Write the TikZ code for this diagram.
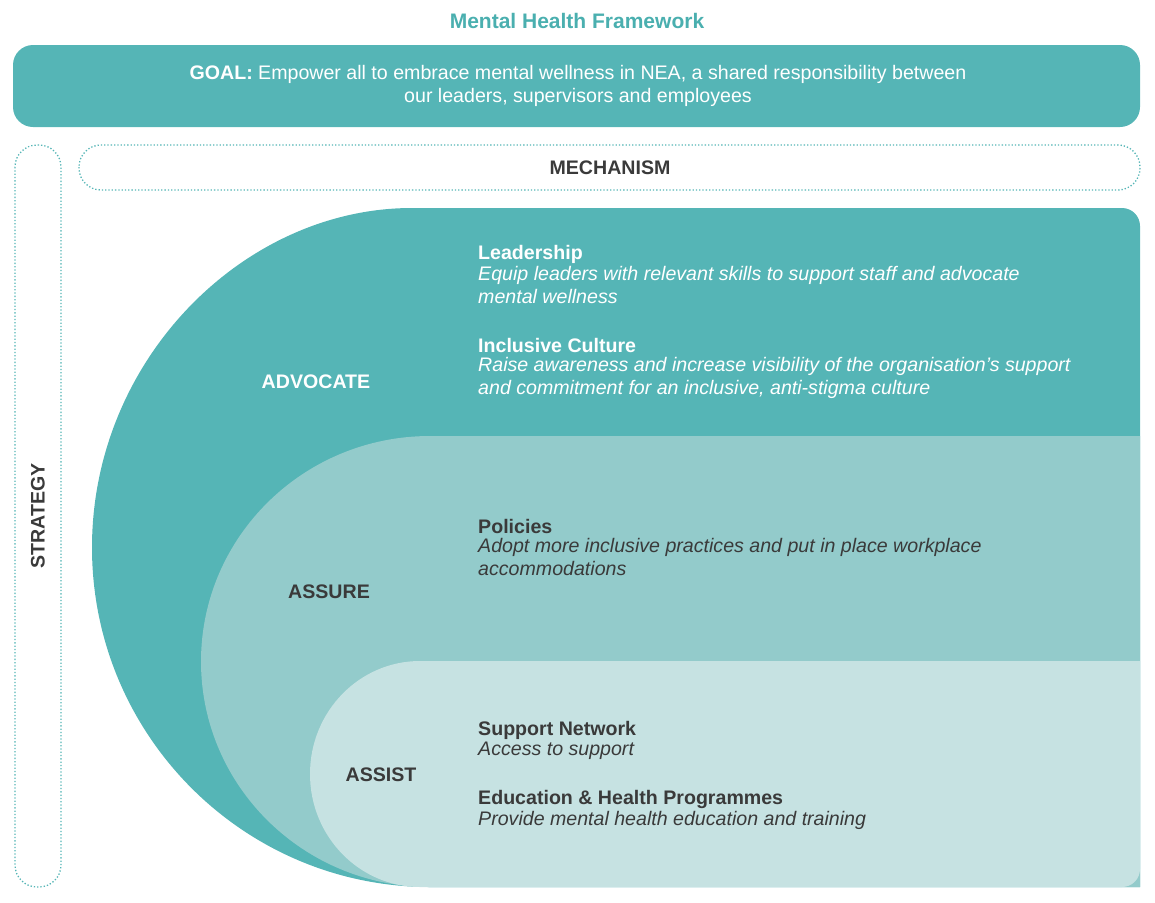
\documentclass[tikz,border=0pt]{standalone}
\usepackage{fontspec}
\setmainfont{Liberation Sans}
\definecolor{tdark}{HTML}{55B5B6}
\definecolor{tmid}{HTML}{93CBCB}
\definecolor{tlight}{HTML}{C6E2E2}
\definecolor{ttitle}{HTML}{4AAFAF}
\definecolor{tgray}{HTML}{3A3A3A}
\begin{document}
\begin{tikzpicture}[x=1pt,y=-1pt,
  dotbox/.style={draw=tdark,line width=1.3pt,dotted},
  head/.style={font=\bfseries\fontsize{19.6}{23}\selectfont,anchor=west,inner sep=0pt},
  body/.style={font=\itshape\fontsize{19.6}{23}\selectfont,align=left,anchor=north west,inner sep=0pt},
  lbl/.style={font=\bfseries\fontsize{19.6}{22}\selectfont}]
\useasboundingbox (0,0) rectangle (1155,902);
\node[font=\bfseries\fontsize{21}{24}\selectfont,text=ttitle] (title) at (577,21) {Mental Health Framework};
\fill[tdark,rounded corners=20pt] (13,45) rectangle (1140,127);
\node[text=white,align=center,font=\fontsize{19.6}{23}\selectfont] (goal) at (578,86) {\textbf{GOAL:} Empower all to embrace mental wellness in NEA, a shared responsibility between\\our leaders, supervisors and employees};
\draw[dotbox,rounded corners=22pt] (79,145) rectangle (1140,190);
\node[lbl,text=tgray] (mech) at (610,168) {MECHANISM};
\draw[dotbox,rounded corners=22pt] (15,145) rectangle (61,887);
\node[lbl,text=tgray,rotate=90] (strat) at (38,516) {STRATEGY};
% shapes
\fill[tdark,rounded corners=18pt] (1140,600) -- (1140,208) -- (430,208) [sharp corners] arc[start angle=-90,end angle=-270,x radius=338,y radius=339.5] -- (1140,887) -- cycle;
\fill[tmid] (1140,436) -- (430,436) arc[start angle=-90,end angle=-270,x radius=229,y radius=225.5] -- (1140,887) -- cycle;
\fill[tlight,rounded corners=18pt] (1140,661) [sharp corners] -- (420,661) arc[start angle=-90,end angle=-270,x radius=110,y radius=113] [rounded corners=18pt] -- (1140,887) [sharp corners] -- cycle;
\node[lbl,text=white] (adv) at (316,382) {ADVOCATE};
\node[lbl,text=tgray] (ass) at (329,592) {ASSURE};
\node[lbl,text=tgray] (assist) at (381,775) {ASSIST};
\begin{scope}[text=white]
\node[head] (l1) at (478,254) {Leadership};
\node[body] (l2) at (478,266) {Equip leaders with relevant skills to support staff and advocate\\mental wellness};
\node[head] (i1) at (478,345) {Inclusive Culture};
\node[body] (i2) at (478,357) {Raise awareness and increase visibility of the organisation's support\\and commitment for an inclusive, anti-stigma culture};
\end{scope}
\begin{scope}[text=tgray]
\node[head] (p1) at (478,526) {Policies};
\node[body] (p2) at (478,538) {Adopt more inclusive practices and put in place workplace\\accommodations};
\node[head] (s1) at (478,730) {Support Network};
\node[body] (s2) at (478,742) {Access to support};
\node[head] (e1) at (478,799) {Education \& Health Programmes};
\node[body] (e2) at (478,811) {Provide mental health education and training};
\end{scope}
\end{tikzpicture}
\end{document}
